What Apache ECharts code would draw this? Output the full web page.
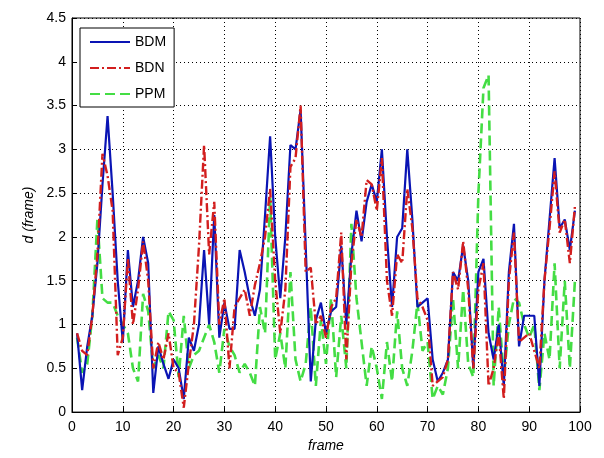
<!DOCTYPE html>
<html><head><meta charset="utf-8">
<script src="https://cdn.jsdelivr.net/npm/echarts@6/dist/echarts.min.js"></script>
<style>html,body{margin:0;padding:0;background:#fff}#c{width:604px;height:458px}</style>
</head><body><div id="c"></div>
<script>
const frames = Array.from({length: 99}, (_, i) => i + 1);
const BDM = [0.9,0.25,0.75,1.1,1.7,2.6,3.38,2.5,1.5,0.8,
1.85,1.2,1.5,2.0,1.7,0.22,0.75,0.55,0.38,0.6,
0.5,0.15,0.85,0.7,1.0,1.85,1.0,2.25,0.85,1.25,
0.95,0.95,1.85,1.6,1.3,1.1,1.4,2.25,3.15,2.0,
1.3,2.0,3.05,3.0,3.45,1.9,0.35,1.05,1.25,0.9,
1.15,1.2,1.9,1.0,1.8,2.3,1.95,2.4,2.6,2.4,
3.0,2.0,1.2,2.0,2.1,3.0,2.2,1.2,1.25,1.3,
0.6,0.35,0.45,0.6,1.6,1.5,1.9,1.5,0.5,1.6,
1.75,0.9,0.6,1.0,0.3,1.6,2.15,0.75,1.1,1.1,
1.1,0.3,1.5,2.2,2.9,2.1,2.2,1.85,2.3];
const BDN = [0.9,0.7,0.65,1.1,1.8,2.95,2.7,2.3,0.65,0.85,
1.75,1.0,1.4,1.95,1.5,0.5,0.8,0.6,0.9,0.5,
0.45,0.05,0.55,1.0,1.9,3.05,1.8,2.4,1.0,1.3,
0.5,1.2,1.3,1.4,1.1,1.45,1.7,2.0,2.55,1.5,
0.9,1.4,2.8,2.9,3.5,1.6,1.65,1.0,1.1,0.85,
1.2,1.3,2.05,0.6,1.7,2.2,2.0,2.65,2.6,2.3,
2.9,1.5,1.1,1.8,1.7,2.55,2.1,1.3,1.2,1.05,
0.3,0.35,0.4,0.6,1.6,1.4,1.95,1.4,0.5,1.4,
1.7,0.3,0.5,0.9,0.15,1.5,2.05,0.8,0.85,0.9,
0.7,0.5,1.5,2.1,2.75,2.05,2.2,1.7,2.35];
const PPM = [0.85,0.45,0.55,1.1,2.2,1.3,1.25,1.25,1.1,1.0,
0.9,0.5,0.35,1.35,1.15,0.5,0.65,0.5,1.15,1.05,
0.4,1.1,0.5,0.65,0.7,0.85,1.0,0.8,0.45,0.95,
0.75,0.65,0.45,0.55,0.45,0.3,1.2,0.9,2.45,0.6,
0.9,0.5,1.6,0.6,0.35,0.55,1.2,0.3,1.05,0.55,
1.3,0.4,1.1,0.5,2.15,1.3,0.8,0.3,0.75,0.5,
0.15,0.8,0.35,1.15,0.5,0.3,0.7,1.25,0.7,0.8,
0.15,0.3,0.2,0.5,1.3,0.5,1.4,0.55,0.4,2.5,
3.7,3.85,0.3,1.2,0.4,1.0,1.3,1.25,1.0,0.85,
1.0,0.25,0.9,0.6,1.7,0.5,1.5,0.5,1.5];
const xTicks = [0,10,20,30,40,50,60,70,80,90,100];
const yTicks = [0,0.5,1,1.5,2,2.5,3,3.5,4,4.5];

const font = 'Liberation Sans, Arial, sans-serif';
const pair = a => frames.map((f, i) => [f, a[i]]);
const chart = echarts.init(document.getElementById('c'), null, {renderer: 'canvas'});
const axisCommon = {
  axisLine: {show: true, onZero: false, lineStyle: {color: '#000', width: 1}},
  axisTick: {show: true, inside: true, length: 5, lineStyle: {color: '#000'}},
  splitLine: {show: true, lineStyle: {color: '#000', type: [1, 3], width: 1}},
  axisLabel: {color: '#000', fontSize: 14, fontFamily: font}
};
chart.setOption({
  animation: false,
  backgroundColor: '#fff',
  grid: {left: 72, right: 24, top: 18, bottom: 41, show: true, borderColor: '#000', borderWidth: 1},
  legend: {
    orient: 'vertical', left: 80, top: 28, itemWidth: 40, itemHeight: 12, itemGap: 12,
    padding: [7, 8, 6, 9], borderColor: '#000', borderWidth: 1, backgroundColor: '#fff',
    itemStyle: {opacity: 0},
    textStyle: {fontSize: 14, fontFamily: font, color: '#000'},
    data: ['BDM', 'BDN', 'PPM']
  },
  xAxis: Object.assign({}, axisCommon, {
    type: 'value', min: 0, max: 100, interval: 10,
    name: 'frame', nameLocation: 'middle', nameGap: 24,
    nameTextStyle: {fontStyle: 'italic', fontSize: 14, fontFamily: font, color: '#000'},
    axisLabel: Object.assign({}, axisCommon.axisLabel, {margin: 8})
  }),
  yAxis: Object.assign({}, axisCommon, {
    type: 'value', min: 0, max: 4.5, interval: 0.5,
    name: 'd (frame)', nameLocation: 'middle', nameGap: 36,
    nameTextStyle: {fontStyle: 'italic', fontSize: 14, fontFamily: font, color: '#000'},
    axisLabel: Object.assign({}, axisCommon.axisLabel, {margin: 6})
  }),
  series: [
    {name: 'BDM', type: 'line', data: pair(BDM), symbol: 'none', z: 3,
     lineStyle: {color: '#0a14b4', width: 2.2, type: 'solid'}, itemStyle: {color: '#0a14b4'}},
    {name: 'BDN', type: 'line', data: pair(BDN), symbol: 'none', z: 4,
     lineStyle: {color: '#d21e1e', width: 2.4, type: [9, 3, 2, 3]}, itemStyle: {color: '#d21e1e'}},
    {name: 'PPM', type: 'line', data: pair(PPM), symbol: 'none', z: 2,
     lineStyle: {color: '#44dd44', width: 2.6, type: [10, 5]}, itemStyle: {color: '#44dd44'}}
  ]
});
</script></body></html>
